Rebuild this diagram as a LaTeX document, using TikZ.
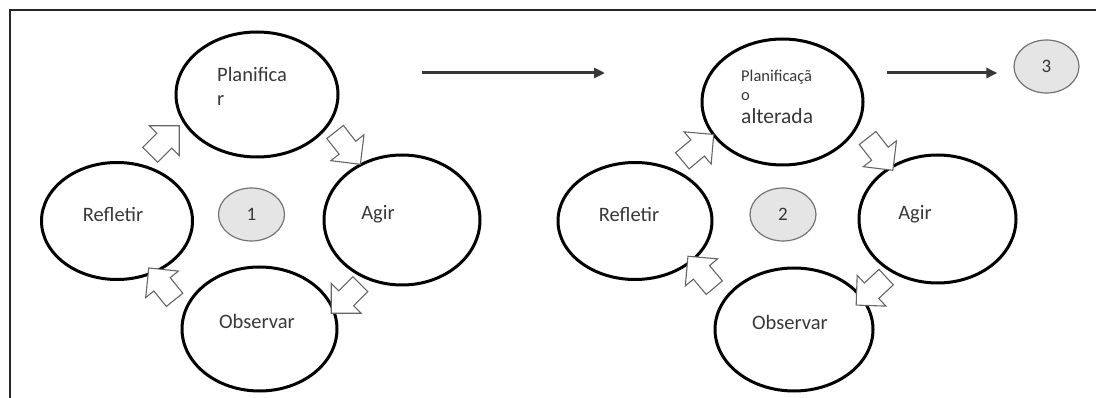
\documentclass[tikz,border=0pt]{standalone}
\usepackage{fontspec}
\setmainfont{Carlito}
\usepackage{xcolor}
\usetikzlibrary{shapes.geometric, shapes.arrows}
\usetikzlibrary{arrows.meta}
\tikzset{>={Triangle[width=10pt,length=11pt]}}
\definecolor{txtgray}{HTML}{383838}

\begin{document}
\begin{tikzpicture}[x=1pt, y=-1pt, ellnode/.style={ellipse, draw=black, line width=3pt, inner sep=0pt}, numnode/.style={ellipse, draw=black!55, fill=black!10, line width=1.2pt, inner sep=0pt, minimum width=66pt, minimum height=53pt, font=\fontsize{19}{21}\selectfont, text=txtgray}, lbl/.style={inner sep=0pt, text=txtgray, font=\fontsize{20.5}{24}\selectfont, anchor=base}, blockarrow/.style={single arrow, draw=black!60, fill=white, line width=1.1pt, inner sep=10pt, minimum height=41pt, single arrow head extend=10.5pt}]

    \useasboundingbox (0,0) rectangle (1096,398);
    \draw[line width=1.6pt, black!85] (1096,10) -- (10,10) -- (10,398);

    %Nodes, first cycle
    \node[ellnode, minimum width=162pt, minimum height=125pt](plan1) at (257,94.5){};
    \node[ellnode, minimum width=156pt, minimum height=130pt](agir1) at (402,220){};
    \node[ellnode, minimum width=151pt, minimum height=117pt](refl1) at (117,221){};
    \node[ellnode, minimum width=155pt, minimum height=124pt](obs1) at (259.5,329){};
    \node[numnode](one) at (251.5,214.5){1};

    \node[lbl, anchor=base west](plan1a) at (217,82){Planifica};
    \node[lbl, anchor=base west](plan1b) at (217,106){r};
    \node[lbl](agir1txt) at (378,220){Agir};
    \node[lbl](refl1txt) at (113,222){Refletir};
    \node[lbl](obs1txt) at (257,329){Observar};

    %Nodes, second cycle
    \node[ellnode, minimum width=161pt, minimum height=126pt](plan2) at (782.5,102){};
    \node[ellnode, minimum width=157pt, minimum height=128pt](agir2) at (937.5,219){};
    \node[ellnode, minimum width=154pt, minimum height=117pt](refl2) at (635,221){};
    \node[ellnode, minimum width=158pt, minimum height=123pt](obs2) at (794,329.5){};
    \node[numnode](two) at (783,214.5){2};
    \node[numnode, minimum width=65pt](three) at (1046.5,66.5){3};

    \node[lbl, anchor=base west, font=\fontsize{16.5}{20}\selectfont](plan2a) at (741,82){Planificaçã};
    \node[lbl, anchor=base west, font=\fontsize{16.5}{20}\selectfont](plan2b) at (741,101){o};
    \node[lbl, anchor=base west, font=\fontsize{21.5}{24}\selectfont](plan2c) at (741,124){alterada};
    \node[lbl](agir2txt) at (915,220){Agir};
    \node[lbl](refl2txt) at (629,222){Refletir};
    \node[lbl](obs2txt) at (790,330){Observar};

    %Block arrows
    \node[blockarrow, rotate=45](a1) at (161,144){};
    \node[blockarrow, rotate=-52](a2) at (344.5,144){};
    \node[blockarrow, rotate=-135](a3) at (349.5,295){};
    \node[blockarrow, rotate=129](a4) at (165,288){};
    \node[blockarrow, rotate=40](b1) at (694,151){};
    \node[blockarrow, rotate=-52](b2) at (877,150){};
    \node[blockarrow, rotate=-137](b3) at (875,287.5){};
    \node[blockarrow, rotate=130](b4) at (704.5,276){};

    %Lines
    \coordinate (h1s) at (422,73);
    \coordinate (h1e) at (605,73);
    \coordinate (h2s) at (887,73);
    \draw[->, line width=3pt, txtgray] (h1s) -- (h1e);
    \draw[->, line width=3pt, txtgray, shorten >=16pt] (h2s) -- (h2s -| three.west);

\end{tikzpicture}
\end{document}
